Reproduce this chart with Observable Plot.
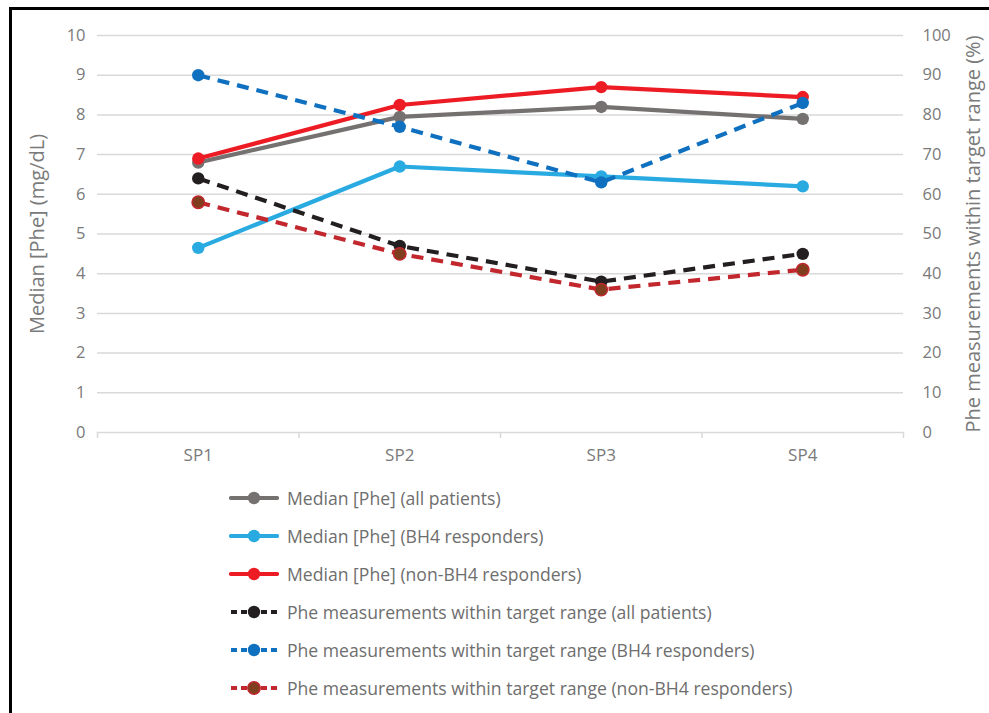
<!DOCTYPE html>
<html>
<head>
<meta charset="utf-8">
<script src="https://cdn.jsdelivr.net/npm/d3@7"></script>
<script src="https://cdn.jsdelivr.net/npm/@observablehq/plot@0.6"></script>
<style>
  html, body { margin: 0; padding: 0; background: #fff; }
  body { width: 989px; height: 713px; position: relative; overflow: hidden; font-family: "Open Sans", sans-serif; }
  #frame { position: absolute; left: 9px; top: 7px; width: 990px; height: 720px; border-top: 3px solid #000; border-left: 3px solid #000; pointer-events: none; }
  #chart { position: absolute; left: 0; top: 0; }
  #legend { position: absolute; left: 229px; top: 479px; }
  .item { display: flex; align-items: center; height: 38px; font-size: 17.6px; color: #6e6e6e; }
  .item svg { margin-right: 8px; }
</style>
</head>
<body>
<div id="chart"></div>
<div id="legend"></div>
<div id="frame"></div>
<script>
const categories = ["SP1", "SP2", "SP3", "SP4"];
const medianAll = [6.8, 7.95, 8.2, 7.9];
const medianBH4 = [4.65, 6.7, 6.45, 6.2];
const medianNon = [6.9, 8.25, 8.7, 8.45];
const pctAll = [64, 47, 38, 45];
const pctBH4 = [90, 77, 63, 83];
const pctNon = [58, 45, 36, 41];
const leftTicks = [0, 1, 2, 3, 4, 5, 6, 7, 8, 9, 10];
const rightTicks = [0, 10, 20, 30, 40, 50, 60, 70, 80, 90, 100];

const series = [
  {name: "Median [Phe] (all patients)", values: medianAll, axis: "left", stroke: "#767171", fill: "#767171", dash: null},
  {name: "Median [Phe] (BH4 responders)", values: medianBH4, axis: "left", stroke: "#29abe2", fill: "#29abe2", dash: null},
  {name: "Median [Phe] (non-BH4 responders)", values: medianNon, axis: "left", stroke: "#ed1c24", fill: "#ed1c24", dash: null},
  {name: "Phe measurements within target range (all patients)", values: pctAll, axis: "right", stroke: "#231f20", fill: "#231f20", dash: "12,8"},
  {name: "Phe measurements within target range (BH4 responders)", values: pctBH4, axis: "right", stroke: "#1070c0", fill: "#1070c0", dash: "12,8"},
  {name: "Phe measurements within target range (non-BH4 responders)", values: pctNon, axis: "right", stroke: "#c1272d", fill: "#7f3f1f", dash: "12,8"}
];

// rows: x position is category index center; right-axis series mapped onto left scale (100% == 10)
const rows = series.map(s => s.values.map((v, i) => ({
  series: s.name, cat: categories[i], xi: i + 0.5, y: s.axis === "left" ? v : v / 10
})));

const marks = [
  Plot.ruleY(leftTicks.filter(d => d > 0), {stroke: "#d9d9d9", strokeWidth: 1.5}),
  Plot.ruleY([0], {stroke: "#d9d9d9", strokeWidth: 1.5}),
  Plot.axisY({anchor: "left", ticks: leftTicks, tickSize: 0, tickPadding: 12, tickFormat: d => d, label: null, fontSize: 16.5}),
  Plot.axisY({anchor: "left", ticks: [], label: "Median [Phe] (mg/dL)", labelAnchor: "center", labelArrow: "none", labelOffset: 68, fontSize: 20}),
  Plot.axisY({anchor: "right", ticks: leftTicks, tickSize: 0, tickPadding: 19, tickFormat: (d, i) => rightTicks[i], label: null, fontSize: 16.5}),
  Plot.axisY({anchor: "right", ticks: [], label: "Phe measurements within target range (%)", labelAnchor: "center", labelArrow: "none", labelOffset: 76, fontSize: 20}),
  Plot.axisX({ticks: d3.range(categories.length + 1), tickSize: 6, tickFormat: () => "", stroke: "#d9d9d9", strokeWidth: 1.5, label: null}),
  Plot.axisX({ticks: categories.map((c, i) => i + 0.5), tickSize: 0, tickPadding: 16, tickFormat: d => categories[Math.floor(d)], fontSize: 17, label: null})
];
series.forEach((s, k) => {
  marks.push(Plot.line(rows[k], {x: "xi", y: "y", stroke: s.stroke, strokeWidth: 4.2, strokeDasharray: s.dash, strokeLinecap: s.dash ? "butt" : "round"}));
  marks.push(Plot.dot(rows[k], {x: "xi", y: "y", r: 6.2, fill: s.fill, stroke: s.stroke, strokeWidth: s.fill !== s.stroke ? 1.5 : 0}));
});

const chart = Plot.plot({
  width: 989,
  height: 470,
  marginLeft: 97,
  marginRight: 86,
  marginTop: 35,
  marginBottom: 38,
  style: {fontFamily: "'Open Sans', sans-serif", color: "#7a7a7a", fontSize: "16.5px", background: "transparent"},
  x: {type: "linear", domain: [0, categories.length], axis: null},
  y: {domain: [0, 10], axis: null},
  marks
});
document.getElementById("chart").appendChild(chart);

const legend = document.getElementById("legend");
series.forEach(s => {
  const div = document.createElement("div");
  div.className = "item";
  const sw = `<svg width="50" height="14"><line x1="2" y1="7" x2="48" y2="7" stroke="${s.stroke}" stroke-width="4.2" ${s.dash ? 'stroke-dasharray="6,4"' : 'stroke-linecap="round"'} /><circle cx="25" cy="7" r="6.2" fill="${s.fill}" stroke="${s.stroke}" stroke-width="${s.fill !== s.stroke ? 1.5 : 0}"/></svg>`;
  div.innerHTML = sw + `<span>${s.name}</span>`;
  legend.appendChild(div);
});
</script>
</body>
</html>
